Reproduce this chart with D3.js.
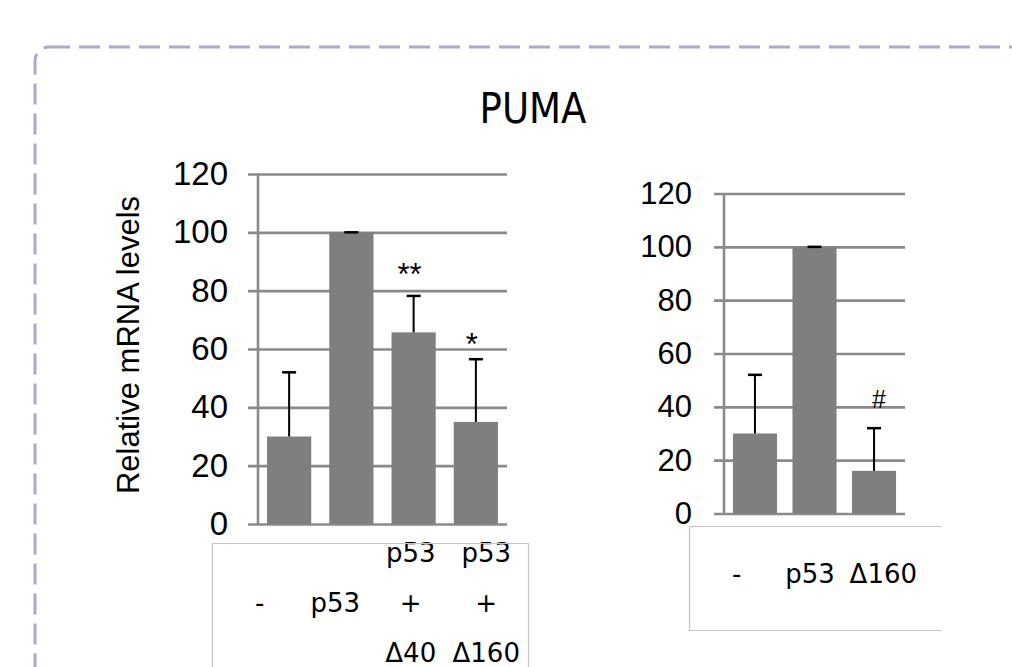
<!DOCTYPE html>
<html>
<head>
<meta charset="utf-8">
<script src="https://cdn.jsdelivr.net/npm/d3@7"></script>
<style>
  body { margin: 0; background: #fff; }
  svg { display: block; }
</style>
</head>
<body>
<div id="chart"></div>
<script>
// data
const leftCategories = [["-"], ["p53"], ["p53", "+", "\u039440"], ["p53", "+", "\u0394160"]];
const leftValues = [30, 100, 65.7, 35];
const leftErrors = [22, 0, 12.5, 21.5];
const leftMarks = ["", "", "**", "*"];
const leftMarkAt = [0, 0, 82, 58];

const rightCategories = [["-"], ["p53"], ["\u0394160"]];
const rightValues = [30, 100, 16];
const rightErrors = [22, 0, 16];
const rightMarks = ["", "", "#"];
const rightMarkAt = [0, 0, 39.5];

const yTicks = [0, 20, 40, 60, 80, 100, 120];

const width = 1012, height = 667;
const svg = d3.select("#chart").append("svg")
    .attr("width", width)
    .attr("height", height);

// dashed rounded frame
svg.append("rect")
    .attr("x", 35).attr("y", 47)
    .attr("width", 1040).attr("height", 700)
    .attr("rx", 14)
    .attr("fill", "none")
    .attr("stroke", "#b4a5cf")
    .attr("stroke-width", 3)
    .attr("stroke-dasharray", "21 9");

svg.append("text")
    .attr("x", 533).attr("y", 123)
    .attr("text-anchor", "middle")
    .attr("font-family", "DejaVu Sans")
    .attr("font-size", 42)
    .attr("textLength", 107)
    .attr("lengthAdjust", "spacingAndGlyphs")
    .text("PUMA");

function drawPanel(opt) {
    const g = svg.append("g");
    const x = d3.scaleBand()
        .domain(d3.range(opt.values.length))
        .range([opt.x0, opt.x1])
        .paddingInner(opt.pIn)
        .paddingOuter(opt.pOut);
    const y = d3.scaleLinear().domain([0, 120]).range([opt.yBottom, opt.yTop]);

    // gridlines + tick labels
    const axis = g.append("g")
        .attr("transform", `translate(${opt.x1},0)`)
        .call(d3.axisLeft(y).tickValues(yTicks).tickSize(opt.x1 - opt.x0 + 10).tickPadding(opt.pad));
    axis.select(".domain").remove();
    axis.selectAll(".tick line").attr("stroke", "#8a8a8a").attr("stroke-width", 2.6);
    axis.selectAll(".tick text")
        .attr("font-family", "Liberation Sans, Arial, sans-serif")
        .attr("font-size", opt.fs)
        .attr("fill", "#000");

    g.append("line")
        .attr("x1", opt.x0).attr("x2", opt.x0)
        .attr("y1", y(120)).attr("y2", y(0))
        .attr("stroke", "#8a8a8a").attr("stroke-width", 2.6);

    // bars
    g.selectAll(".bar").data(opt.values).join("rect")
        .attr("class", "bar")
        .attr("x", (d, i) => x(i))
        .attr("width", x.bandwidth())
        .attr("y", d => y(d))
        .attr("height", d => y(0) - y(d))
        .attr("fill", "#7f7f7f");

    // error bars
    opt.values.forEach((v, i) => {
        const cx = x(i) + x.bandwidth() / 2;
        const top = y(v + opt.errors[i]);
        if (opt.errors[i] > 0) {
            g.append("line")
                .attr("x1", cx).attr("x2", cx)
                .attr("y1", y(v)).attr("y2", top)
                .attr("stroke", "#000").attr("stroke-width", 2);
        }
        g.append("line")
            .attr("x1", cx - 7).attr("x2", cx + 7)
            .attr("y1", top).attr("y2", top)
            .attr("stroke", "#000").attr("stroke-width", 2.5);
        if (opt.marks[i]) {
            g.append("text")
                .attr("x", cx - (opt.marks[i] === "#" ? -5 : 4))
                .attr("y", y(opt.markAt[i]))
                .attr("text-anchor", "middle")
                .attr("font-family", "Liberation Sans, Arial, sans-serif")
                .attr("font-size", opt.marks[i] === "#" ? 25 : 31)
                .text(opt.marks[i]);
        }
    });

    // category label table
    const lx = d3.scaleBand()
        .domain(d3.range(opt.cats.length))
        .range(opt.labelRange);
    const lab = g.append("g")
        .attr("font-family", "DejaVu Sans, Tahoma, sans-serif")
        .attr("font-size", 26)
        .attr("fill", "#000");
    opt.cats.forEach((lines, i) => {
        lines.forEach((t, j) => {
            lab.append("text")
                .attr("x", lx(i) + lx.bandwidth() / 2)
                .attr("y", opt.labelY + (j - (lines.length - 1) / 2) * 50)
                .attr("dy", "0.36em")
                .attr("text-anchor", "middle")
                .text(t);
        });
    });
    g.append("path")
        .attr("d", opt.boxPath)
        .attr("fill", "none")
        .attr("stroke", "#c4c4c4")
        .attr("stroke-width", 1.2);
    return y;
}

const yLeft = drawPanel({
    values: leftValues, errors: leftErrors, marks: leftMarks, markAt: leftMarkAt, cats: leftCategories,
    x0: 258, x1: 507, pIn: 0.29, pOut: 0.145,
    yBottom: 524, yTop: 174, fs: 33, pad: 20,
    labelRange: [222, 524], labelY: 603,
    boxPath: "M212.5,680V543.5H528.5V680"
});

drawPanel({
    values: rightValues, errors: rightErrors, marks: rightMarks, markAt: rightMarkAt, cats: rightCategories,
    x0: 724, x1: 905, pIn: 0.26, pOut: 0.15,
    yBottom: 513.5, yTop: 193.5, fs: 31, pad: 22,
    labelRange: [700, 920], labelY: 574,
    boxPath: "M941,526.5H689.5V630.5H941"
});

// y axis title
svg.append("text")
    .attr("transform", `translate(139,${(yLeft(0) + yLeft(120)) / 2 - 4}) rotate(-90)`)
    .attr("text-anchor", "middle")
    .attr("font-family", "Liberation Sans, Arial, sans-serif")
    .attr("font-size", 31)
    .text("Relative mRNA levels");
</script>
</body>
</html>
